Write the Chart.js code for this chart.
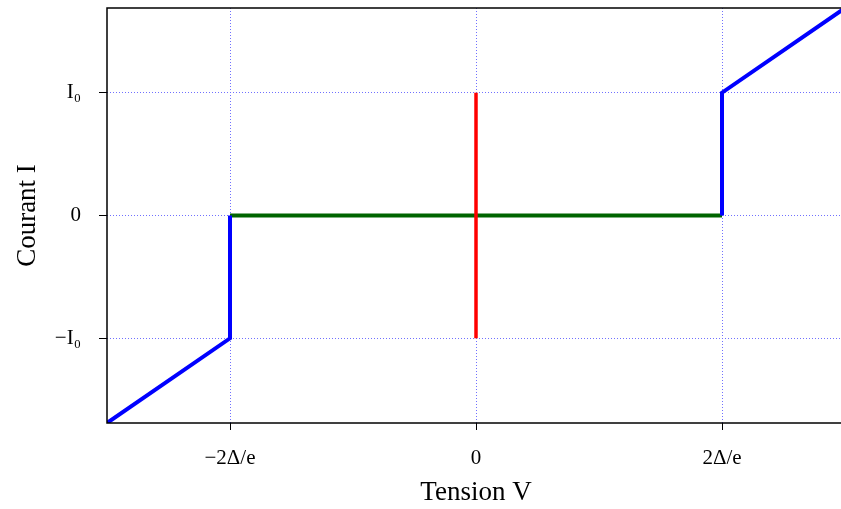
<!DOCTYPE html>
<html>
<head>
<meta charset="utf-8">
<script src="https://cdn.jsdelivr.net/npm/chart.js@4"></script>
<style>
html,body{margin:0;padding:0;background:#fff;overflow:hidden;}
#wrap{width:841px;height:509px;overflow:hidden;}
</style>
</head>
<body>
<div id="wrap"><canvas id="c" width="846" height="509"></canvas></div>
<script>
// Data (units: x in Δ/e, y in I0)
const xTickValues = [-2, 0, 2];
const xTickLabels = ['\u22122\u0394/e', '0', '2\u0394/e'];
const yTickValues = [-1, 0, 1];
const yTickLabels = ['\u2212I\u2080', '0', 'I\u2080'];
const blueLeftX = [-3, -2, -2];
const blueLeftY = [-1.69, -1, 0];
const blueRightX = [2, 2, 3];
const blueRightY = [0, 1, 1.69];
const greenX = [-2, 2];
const greenY = [0, 0];
const redX = [0, 0];
const redY = [-1, 1];
const xRange = [-3, 3];
const yRange = [-1.69, 1.69];

const pts = (xs, ys) => xs.map((x, i) => ({x, y: ys[i]}));
const FONT = "'Liberation Serif', 'DejaVu Serif', serif";

const framePlugin = {
  id: 'frame',
  afterDraw(chart) {
    const a = chart.chartArea, ctx = chart.ctx;
    ctx.save();
    ctx.strokeStyle = '#000';
    ctx.lineWidth = 1.5;
    ctx.strokeRect(a.left, a.top, a.right - a.left, a.bottom - a.top);
    ctx.restore();
  }
};

const lineDs = (data, color, width) => ({
  data, borderColor: color, backgroundColor: color, borderWidth: width,
  showLine: true, pointRadius: 0, fill: false, tension: 0
});

new Chart(document.getElementById('c'), {
  type: 'scatter',
  data: {
    datasets: [
      lineDs(pts(redX, redY), '#ff0000', 3.5),
      lineDs(pts(blueLeftX, blueLeftY), '#0000ff', 4),
      lineDs(pts(blueRightX, blueRightY), '#0000ff', 4),
      lineDs(pts(greenX, greenY), '#006400', 4)
    ]
  },
  options: {
    responsive: false,
    animation: false,
    layout: {padding: {top: 8, right: 1, left: 0, bottom: 0}},
    plugins: {legend: {display: false}, tooltip: {enabled: false}},
    scales: {
      x: {
        type: 'linear', min: xRange[0], max: xRange[1],
        afterBuildTicks: s => { s.ticks = xTickValues.map(v => ({value: v})); },
        afterFit: s => { s.height = 86; s.paddingLeft = 0; s.paddingRight = 0; },
        ticks: {
          callback: (v) => { const i = xTickValues.indexOf(v); return i >= 0 ? xTickLabels[i] : ''; },
          font: {family: FONT, size: 21}, color: '#000', padding: 16, maxRotation: 0, autoSkip: false
        },
        grid: {color: '#7070ff', lineWidth: 1, tickLength: 7, tickColor: '#000', tickWidth: 1, tickBorderDash: []},
        border: {display: false, dash: [1, 2]},
        title: {display: true, text: 'Tension V', font: {family: FONT, size: 27}, color: '#000', padding: {top: 0, bottom: 0}}
      },
      y: {
        type: 'linear', min: yRange[0], max: yRange[1],
        afterBuildTicks: s => { s.ticks = yTickValues.map(v => ({value: v})); },
        afterFit: s => { s.width = 107; s.paddingTop = 0; s.paddingBottom = 0; },
        ticks: {
          callback: (v) => { const i = yTickValues.indexOf(v); return i >= 0 ? yTickLabels[i] : ''; },
          font: {family: FONT, size: 21}, color: '#000', padding: 18
        },
        grid: {color: '#7070ff', lineWidth: 1, tickLength: 8, tickColor: '#000', tickWidth: 1, tickBorderDash: []},
        border: {display: false, dash: [1, 2]},
        title: {display: true, text: 'Courant I', font: {family: FONT, size: 27}, color: '#000', padding: {top: 12, bottom: 0}}
      }
    }
  },
  plugins: [framePlugin]
});
</script>
</body>
</html>
